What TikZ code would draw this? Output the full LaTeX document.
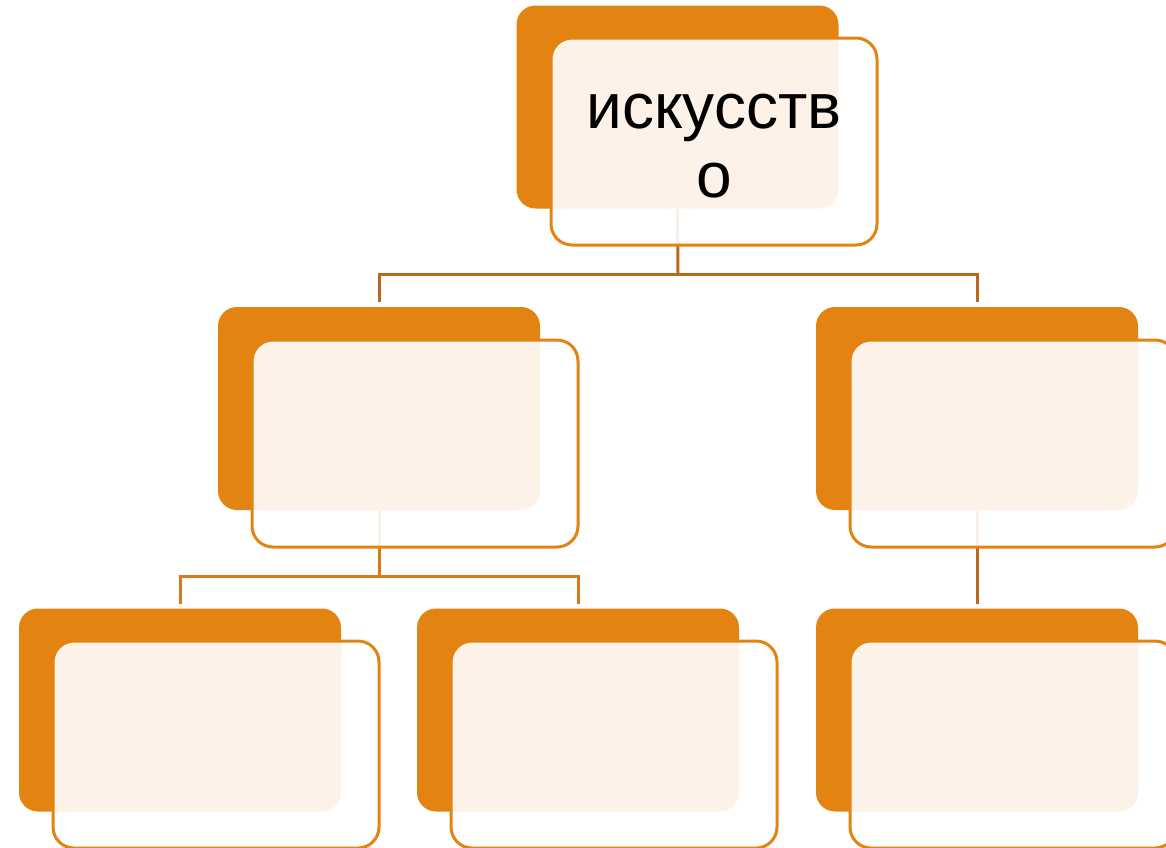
\documentclass[tikz,border=0pt]{standalone}
\usepackage{fontspec}
\setmainfont{Liberation Sans}
\definecolor{org}{HTML}{E38412}
\definecolor{lineA}{HTML}{B8691E}
\definecolor{lineB}{HTML}{D67A1A}
\begin{document}
\begin{tikzpicture}[x=1pt,y=-1pt,
 back/.style={rectangle,rounded corners=19pt,fill=org,minimum width=322pt,minimum height=203pt,inner sep=0pt,outer sep=0pt},
 front/.style={rectangle,rounded corners=21pt,fill=white,fill opacity=0.9,draw=org,line width=3pt,minimum width=326pt,minimum height=207pt,inner sep=0pt,outer sep=0pt},
 conA/.style={draw=lineA,line width=3pt},
 conB/.style={draw=lineB,line width=3pt},
 lbl/.style={font=\fontsize{64}{69}\selectfont,anchor=base,inner sep=0pt}]
\useasboundingbox (0,0) rectangle (1166,847);
% back shapes
\node[back] (o1) at (677.5,107) {};
\node[back] (o2) at (379,408.5) {};
\node[back] (o3) at (977,408.5) {};
\node[back] (o4) at (180,710) {};
\node[back] (o5) at (578,710) {};
\node[back] (o6) at (977,710) {};
% junctions
\coordinate (j1) at (678,274);
\coordinate (j2) at (379,576);
% connectors
\draw[conA] (o1.south) -- (j1);
\draw[conA] ([yshift=5pt]o2.north) |- (j1) -| ([yshift=5pt]o3.north);
\draw[conB] (o2.south) -- (j2);
\draw[conB] ([yshift=5pt]o4.north) |- (j2) -| ([yshift=5pt]o5.north);
\draw[conA] (o3.south) -- ([yshift=5pt]o6.north);
% front shapes
\node[front] (f1) at (714,141.5) {};
\node[front] (f2) at (415,443.5) {};
\node[front] (f3) at (1013,443.5) {};
\node[front] (f4) at (216,744.5) {};
\node[front] (f5) at (614,744.5) {};
\node[front] (f6) at (1013,744.5) {};
% text
\node[lbl] (t1) at (714,128) {искусств};
\node[lbl] (t2) at (714,197) {о};
\end{tikzpicture}
\end{document}
